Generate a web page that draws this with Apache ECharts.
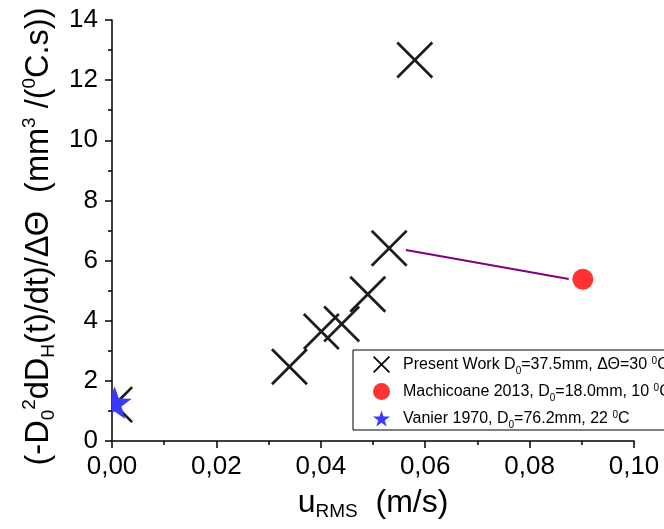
<!DOCTYPE html>
<html>
<head>
<meta charset="utf-8">
<script src="https://cdn.jsdelivr.net/npm/echarts@6/dist/echarts.min.js"></script>
<style>html,body{margin:0;padding:0;background:#fff;}#c{width:664px;height:529px;}</style>
</head>
<body>
<div id="c"></div>
<script>
// Present Work (X markers): [u_RMS, value]
const presentWork = [
  [0.0005, 1.21],
  [0.0340, 2.47],
  [0.0401, 3.64],
  [0.0440, 3.89],
  [0.0490, 4.88],
  [0.0531, 6.41],
  [0.0580, 12.67]
];
// Machicoane 2013 (red circle)
const machicoane = [[0.0902, 5.38]];
// Vanier 1970 (blue star)
const vanier = [[0.0005, 1.22]];
// Purple connecting line
const connector = [[0.0563, 6.35], [0.0875, 5.39]];

const seriesNames = [
  'Present Work D{sub|0}=37.5mm, ΔΘ=30 {sup|0}C',
  'Machicoane 2013, D{sub|0}=18.0mm, 10 {sup|0}C',
  'Vanier 1970, D{sub|0}=76.2mm, 22 {sup|0}C'
];
const xTicks = { min: 0, max: 0.10, interval: 0.02 };
const yTicks = { min: 0, max: 14, interval: 2 };

const FONT = "'Liberation Sans', Arial, sans-serif";
const chart = echarts.init(document.getElementById('c'), null, { renderer: 'canvas' });

function xRender(params, api) {
  const p = api.coord([api.value(0), api.value(1)]);
  const h = 17.5;
  const st = { stroke: '#1c1c1c', lineWidth: 2.7 };
  return {
    type: 'group',
    children: [
      { type: 'line', shape: { x1: p[0] - h, y1: p[1] - h, x2: p[0] + h, y2: p[1] + h }, style: st },
      { type: 'line', shape: { x1: p[0] - h, y1: p[1] + h, x2: p[0] + h, y2: p[1] - h }, style: st }
    ]
  };
}
function starRender(params, api) {
  const p = api.coord([api.value(0), api.value(1)]);
  const R = 18, r = 7.2;
  const pts = [];
  for (let i = 0; i < 10; i++) {
    const a = -Math.PI / 2 + i * Math.PI / 5;
    const rr = i % 2 === 0 ? R : r;
    pts.push([p[0] + rr * Math.cos(a), p[1] + rr * Math.sin(a)]);
  }
  return { type: 'polygon', shape: { points: pts }, style: { fill: '#3a3aff' } };
}

const axisCommon = {
  axisLine: { lineStyle: { color: '#000', width: 1.5 } },
  axisTick: { inside: false, length: 7, lineStyle: { color: '#000', width: 1.5 } },
  minorTick: { show: true, splitNumber: 2, length: 4, lineStyle: { color: '#000', width: 1.5 } },
  splitLine: { show: false },
  minorSplitLine: { show: false }
};

chart.setOption({
  animation: false,
  backgroundColor: '#fff',
  grid: { left: 112, right: 30, top: 20, bottom: 88, containLabel: false, outerBoundsMode: 'none' },
  xAxis: Object.assign({
    type: 'value', min: xTicks.min, max: xTicks.max, interval: xTicks.interval,
    name: 'u{sub|RMS}  (m/s)',
    nameLocation: 'middle', nameGap: 42,
    nameTextStyle: {
      fontFamily: FONT, fontSize: 32, color: '#000', lineHeight: 36,
      rich: {
        sub: { fontFamily: FONT, fontSize: 19, color: '#000', verticalAlign: 'bottom', lineHeight: 19 }
      }
    },
    axisLabel: {
      fontFamily: FONT, fontSize: 26, color: '#000', margin: 13,
      formatter: v => v.toFixed(2).replace('.', ',')
    }
  }, axisCommon),
  yAxis: Object.assign({
    type: 'value', min: yTicks.min, max: yTicks.max, interval: yTicks.interval,
    name: '(-D{sub|0}{sup|2}dD{sub|H}(t)/dt)/ΔΘ  (mm{sup|3} /({sup|0}C.s))',
    nameLocation: 'middle', nameGap: 48,
    nameTextStyle: {
      fontFamily: FONT, fontSize: 32.5, color: '#000', lineHeight: 38,
      padding: [0, 12, 0, 0],
      rich: {
        sub: { fontFamily: FONT, fontSize: 19, color: '#000', verticalAlign: 'bottom', lineHeight: 19 },
        sup: { fontFamily: FONT, fontSize: 19, color: '#000', verticalAlign: 'top', lineHeight: 19 }
      }
    },
    axisLabel: {
      fontFamily: FONT, fontSize: 26, color: '#000', margin: 14,
      formatter: v => String(v)
    }
  }, axisCommon),
  legend: {
    orient: 'vertical', left: 353, top: 350,
    padding: [6, 20, 0, 20],
    borderColor: '#000', borderWidth: 1, borderRadius: 0,
    backgroundColor: '#fff',
    itemWidth: 17, itemHeight: 17, itemGap: 7,
    selectedMode: false,
    formatter: n => '{p|}' + n,
    textStyle: {
      fontFamily: FONT, fontSize: 16, color: '#000', lineHeight: 17,
      rich: {
        p: { width: 8 },
        sub: { fontFamily: FONT, fontSize: 10, color: '#000', verticalAlign: 'bottom', lineHeight: 10, padding: [0, 0, -3, 0] },
        sup: { fontFamily: FONT, fontSize: 10, color: '#000', verticalAlign: 'top', lineHeight: 10 }
      }
    },
    data: [
      { name: seriesNames[0], icon: 'path://M0,0.7L0.7,0L10,9.3L9.3,10ZM9.3,0L10,0.7L0.7,10L0,9.3Z', itemStyle: { color: '#000' } },
      { name: seriesNames[1], icon: 'circle', itemStyle: { color: '#ff0000' } },
      { name: seriesNames[2], icon: 'path://M50,0L61.2,34.5L97.6,34.5L68.2,55.9L79.4,90.5L50,69.1L20.6,90.5L31.8,55.9L2.4,34.5L38.8,34.5Z', itemStyle: { color: '#3a3aff' } }
    ]
  },
  series: [
    {
      name: 'connector', type: 'line', data: connector, symbol: 'none',
      lineStyle: { color: '#800080', width: 2 }, z: 1, silent: true
    },
    {
      name: seriesNames[0], type: 'custom', data: presentWork, renderItem: xRender,
      clip: true, itemStyle: { color: '#000' }, z: 2
    },
    {
      name: seriesNames[1], type: 'scatter', data: machicoane, symbol: 'circle', symbolSize: 21,
      itemStyle: { color: '#ff0000' }, z: 3
    },
    {
      name: seriesNames[2], type: 'custom', data: vanier, renderItem: starRender,
      clip: true, itemStyle: { color: '#3a3aff' }, z: 4
    }
  ]
});
</script>
</body>
</html>
